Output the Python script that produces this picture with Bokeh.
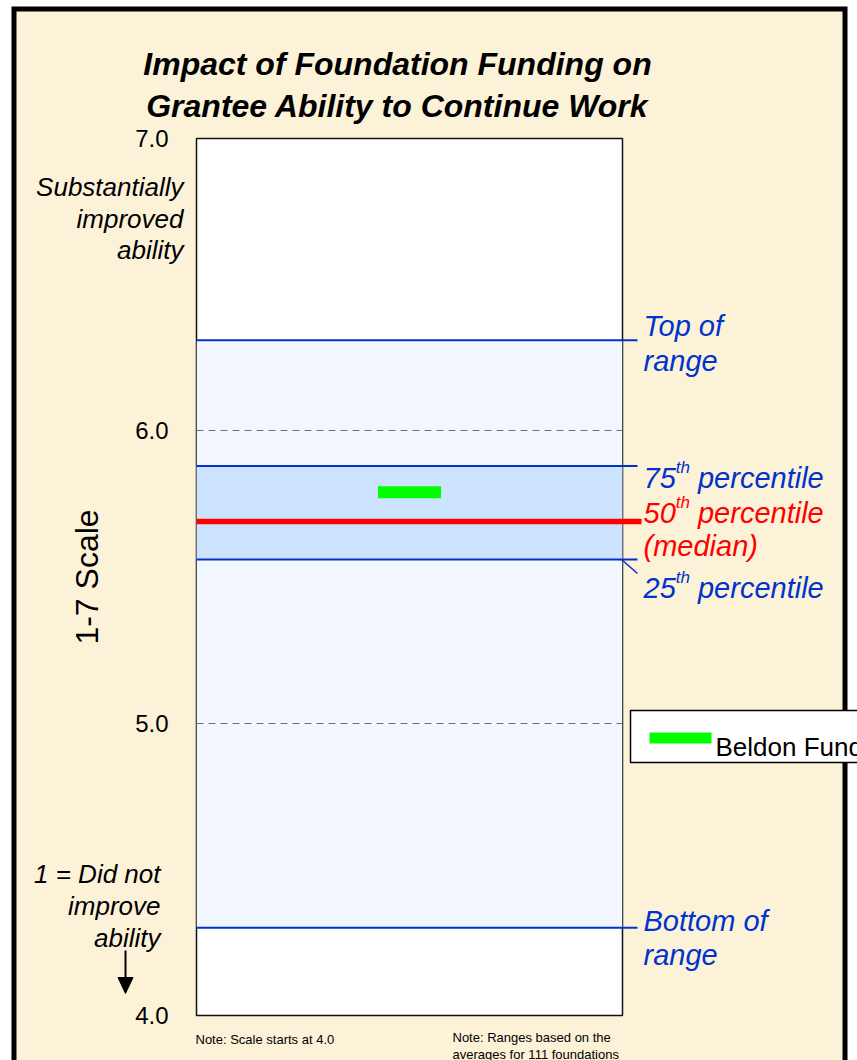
from bokeh.plotting import figure
from bokeh.models import Range1d, FixedTicker, NumeralTickFormatter, ColumnDataSource
from bokeh.core.properties import value
from bokeh.embed import file_html
from bokeh.resources import INLINE

# ---- data -------------------------------------------------------------
scale_min, scale_max = 4.0, 7.0
y_ticks = [4.0, 5.0, 6.0, 7.0]
grid_ticks = [5.0, 6.0]

top_of_range = 6.31
pct_75 = 5.88
median = 5.69
pct_25 = 5.56
bottom_of_range = 4.30

foundation_name = "Beldon Fund"
foundation_score = 5.79

# ---- layout / style ---------------------------------------------------
W, H = 857, 1060
FL, FR, FT, FB = 196, 622, 138, 1015      # plot frame on the canvas, px

BEIGE = "#FCF2D8"
BLUE = "#0033CC"
RED = "#FF0000"
GREEN = "#00FF00"
FONT = "Liberation Sans"


def cx(px):
    """canvas x pixel -> data x"""
    return (px - FL) / (FR - FL)


def cy(py):
    """canvas y pixel -> data y"""
    return scale_max - (py - FT) * (scale_max - scale_min) / (FB - FT)


p = figure(width=W, height=H,
           x_range=Range1d(0, 1), y_range=Range1d(scale_min, scale_max),
           output_backend="svg", toolbar_location=None, x_axis_location=None,
           min_border_left=FL, min_border_right=W - FR,
           min_border_top=FT, min_border_bottom=H - FB,
           background_fill_color="white", border_fill_color=BEIGE,
           outline_line_color="#111111", outline_line_width=1.5)

# y axis
yax = p.yaxis[0]
yax.ticker = FixedTicker(ticks=y_ticks)
yax.formatter = NumeralTickFormatter(format="0.0")
yax.major_tick_line_color = None
yax.minor_tick_line_color = None
yax.axis_line_color = None
yax.major_label_text_font = FONT
yax.major_label_text_font_size = "24px"
yax.major_label_text_color = "black"
yax.major_label_standoff = 22
yax.axis_label = "1-7 Scale"
yax.axis_label_text_font = FONT
yax.axis_label_text_font_size = "32px"
yax.axis_label_text_font_style = "normal"
yax.axis_label_text_color = "black"
yax.axis_label_standoff = 27

p.xgrid.visible = False
p.ygrid.ticker = FixedTicker(ticks=grid_ticks)
p.ygrid.grid_line_color = "#6E6E6E"
p.ygrid.grid_line_dash = "7 5"
p.ygrid.grid_line_width = 1.2
p.ygrid.level = "glyph"

# range bands
p.quad(left=0, right=1, bottom=bottom_of_range, top=top_of_range,
       fill_color="#F2F7FF", line_color=None)
p.quad(left=0, right=1, bottom=pct_25, top=pct_75,
       fill_color="#CCE4FF", line_color=None)

# outer page frame: white margin and thick black rule
p.quad(left=[cx(0), cx(0), cx(847)], right=[cx(11), cx(W), cx(W)],
       bottom=[cy(H + 20), cy(6), cy(H + 20)], top=[cy(-5), cy(-5), cy(-5)],
       fill_color="white", line_color=None, level="annotation")
p.line(x=[cx(13.5), cx(13.5), cx(844.5), cx(844.5)],
       y=[cy(H + 20), cy(8.5), cy(8.5), cy(H + 20)],
       line_color="black", line_width=5, line_join="miter", level="annotation")

# percentile rules, extending a little past the frame
edges = ColumnDataSource(dict(
    y=[top_of_range, pct_75, pct_25, bottom_of_range],
))
p.segment(x0=0, x1=cx(637), y0="y", y1="y", source=edges,
          line_color=BLUE, line_width=2, level="annotation")
p.segment(x0=[cx(621)], x1=[cx(637)], y0=[pct_25], y1=[cy(573)],
          line_color=BLUE, line_width=1.5, level="annotation")
p.segment(x0=[0], x1=[cx(641)], y0=[median], y1=[median],
          line_color=RED, line_width=5.5, level="annotation")

# foundation marker
p.rect(x=[0.5], y=[foundation_score], width=0.148, height=12,
       height_units="screen", fill_color=GREEN, line_color=None)

# key box for the foundation marker
p.quad(left=[cx(630)], right=[cx(W + 60)], bottom=[cy(762)], top=[cy(710)],
       fill_color="white", line_color="black", line_width=1.5, level="annotation")
p.quad(left=[cx(649)], right=[cx(711)], bottom=[cy(743)], top=[cy(732)],
       fill_color=GREEN, line_color=None, level="annotation")


def text(px, py, t, size, color="black", style="italic", align="left"):
    p.text(x=[cx(px)], y=[cy(py)], text=[t],
           text_font=value(FONT), text_font_size=value(size),
           text_font_style=value(style), text_color=color,
           text_align=value(align), text_baseline=value("alphabetic"),
           level="annotation")


text(715, 746, foundation_name, "26px", style="normal")

# title
text(397, 63, "Impact of Foundation Funding on", "32px", style="bold italic", align="center")
text(397, 105, "Grantee Ability to Continue Work", "32px", style="bold italic", align="center")

# scale anchors on the left
for py, t in [(186, "Substantially"), (218, "improved"), (249, "ability")]:
    text(183, py, t, "26px", align="right")
for py, t in [(873, "1 = Did not"), (905, "improve"), (937, "ability")]:
    text(160, py, t, "26px", align="right")

# downward arrow
p.segment(x0=[cx(125)], x1=[cx(125)], y0=[cy(950)], y1=[cy(979)],
          line_color="black", line_width=2, level="annotation")
p.patch(x=[cx(117.5), cx(132.5), cx(125)], y=[cy(977), cy(977), cy(993)],
        fill_color="black", line_color="black", level="annotation")

# right-hand key of the rules
RS = 29
SUP = 17


def ordinal_text(px, py, num, rest, color):
    text(px, py, num, f"{RS}px", color=color)
    xs = px + 0.556 * RS * len(num)
    text(xs, py - 10, "th", f"{SUP}px", color=color)
    text(xs + 0.834 * SUP + 0.278 * RS, py, rest, f"{RS}px", color=color)


text(643, 325, "Top of", f"{RS}px", color=BLUE)
text(643, 360, "range", f"{RS}px", color=BLUE)
ordinal_text(643, 477, "75", "percentile", BLUE)
ordinal_text(643, 512, "50", "percentile", RED)
text(643, 545, "(median)", f"{RS}px", color=RED)
ordinal_text(643, 587, "25", "percentile", BLUE)
text(643, 920, "Bottom of", f"{RS}px", color=BLUE)
text(643, 954, "range", f"{RS}px", color=BLUE)

# footnotes
text(195, 1039, "Note: Scale starts at 4.0", "13px", style="normal")
text(452, 1037, "Note: Ranges based on the", "13px", style="normal")
text(452, 1054, "averages for 111 foundations", "13px", style="normal")

open("out.html", "w").write(file_html(p, INLINE))
